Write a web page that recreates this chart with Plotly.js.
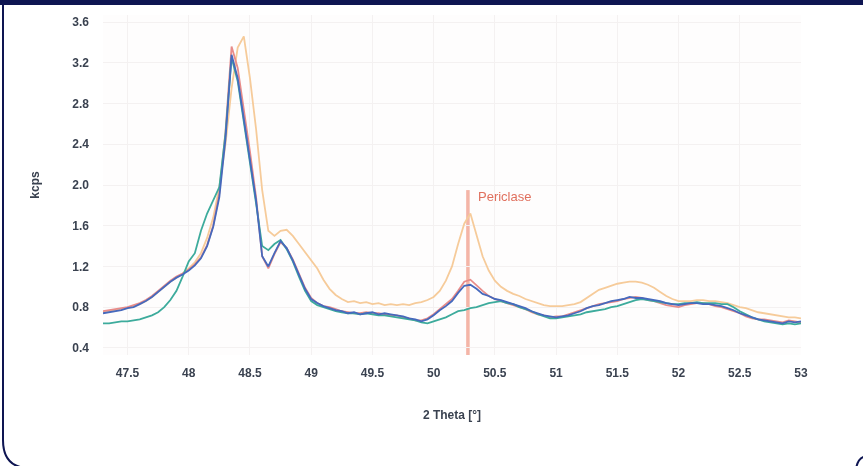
<!DOCTYPE html>
<html>
<head>
<meta charset="utf-8">
<script src="https://cdn.plot.ly/plotly-3.0.1.min.js"></script>
<style>
  html, body { margin: 0; padding: 0; background: #ffffff; overflow: hidden; scrollbar-width: none; }
  html::-webkit-scrollbar, body::-webkit-scrollbar { display: none; width: 0; height: 0; }
  #wrap { position: fixed; left: 0; top: 0; width: 863px; height: 466px; overflow: hidden; }
  #chart { position: absolute; left: 0; top: 0; width: 863px; height: 466px; filter: blur(0.45px); z-index: 1; }
  #deco { position: absolute; left: 0; top: 0; display: block; z-index: 2; pointer-events: none; }
</style>
</head>
<body>
<div id="wrap">
  <div id="chart"></div>
  <svg id="deco" width="863" height="466" xmlns="http://www.w3.org/2000/svg">
    <rect x="846" y="5" width="17" height="461" fill="#ffffff"/>
    <rect x="30" y="452" width="833" height="14" fill="#ffffff"/>
    <rect x="0" y="0" width="863" height="5" fill="#0e1552"/>
    <path d="M3,4 L3,440 Q3,466 26,468" fill="none" stroke="#0e1552" stroke-width="2"/>
    <path d="M856,470 Q857,458 866,456" fill="none" stroke="#0e1552" stroke-width="2"/>
  </svg>
</div>
<script>
// 2 Theta positions (degrees)
const twoTheta = [
  47.30,47.35,47.40,47.45,47.50,47.55,47.60,47.65,47.70,47.75,
  47.80,47.85,47.90,47.95,48.00,48.05,48.10,48.15,48.20,48.25,
  48.30,48.35,48.40,48.45,48.50,48.55,48.60,48.65,48.70,48.75,
  48.80,48.85,48.90,48.95,49.00,49.05,49.10,49.15,49.20,49.25,
  49.30,49.35,49.40,49.45,49.50,49.55,49.60,49.65,49.70,49.75,
  49.80,49.85,49.90,49.95,50.00,50.05,50.10,50.15,50.20,50.25,
  50.30,50.35,50.40,50.45,50.50,50.55,50.60,50.65,50.70,50.75,
  50.80,50.85,50.90,50.95,51.00,51.05,51.10,51.15,51.20,51.25,
  51.30,51.35,51.40,51.45,51.50,51.55,51.60,51.65,51.70,51.75,
  51.80,51.85,51.90,51.95,52.00,52.05,52.10,52.15,52.20,52.25,
  52.30,52.35,52.40,52.45,52.50,52.55,52.60,52.65,52.70,52.75,
  52.80,52.85,52.90,52.95,53.00
];

// kcps values per sample
const peachSeries = [
  0.75,0.76,0.77,0.78,0.79,0.81,0.83,0.86,0.90,0.95,
  1.00,1.05,1.09,1.13,1.18,1.24,1.33,1.48,1.68,1.98,
  2.40,2.95,3.35,3.46,3.05,2.55,1.95,1.55,1.50,1.55,
  1.56,1.50,1.42,1.34,1.27,1.18,1.07,0.98,0.92,0.88,
  0.85,0.86,0.84,0.85,0.83,0.84,0.82,0.83,0.82,0.83,
  0.82,0.84,0.85,0.87,0.90,0.96,1.06,1.20,1.42,1.62,
  1.72,1.52,1.30,1.16,1.06,1.00,0.96,0.93,0.91,0.88,
  0.86,0.84,0.82,0.81,0.81,0.81,0.82,0.83,0.85,0.89,
  0.93,0.97,0.99,1.01,1.03,1.04,1.05,1.05,1.04,1.02,
  0.99,0.95,0.91,0.88,0.86,0.86,0.86,0.87,0.87,0.86,
  0.86,0.85,0.84,0.82,0.80,0.79,0.77,0.75,0.74,0.73,
  0.72,0.71,0.70,0.70,0.69
];
const pinkSeries = [
  0.76,0.77,0.78,0.79,0.80,0.82,0.84,0.87,0.91,0.96,
  1.01,1.06,1.10,1.13,1.17,1.22,1.29,1.41,1.60,1.92,
  2.52,3.36,3.15,2.75,2.33,1.88,1.30,1.18,1.32,1.44,
  1.38,1.27,1.13,0.99,0.89,0.84,0.81,0.80,0.78,0.76,
  0.75,0.74,0.74,0.75,0.74,0.74,0.73,0.72,0.72,0.70,
  0.69,0.67,0.67,0.69,0.73,0.78,0.83,0.88,0.96,1.05,
  1.07,1.01,0.96,0.91,0.88,0.86,0.84,0.82,0.80,0.78,
  0.75,0.73,0.72,0.70,0.71,0.71,0.73,0.75,0.77,0.79,
  0.81,0.83,0.84,0.85,0.86,0.88,0.89,0.90,0.89,0.87,
  0.86,0.84,0.82,0.81,0.80,0.82,0.83,0.84,0.84,0.83,
  0.81,0.80,0.78,0.76,0.74,0.71,0.69,0.68,0.68,0.67,
  0.66,0.65,0.67,0.66,0.65
];
const tealSeries = [
  0.64,0.64,0.65,0.66,0.66,0.67,0.68,0.70,0.72,0.75,
  0.80,0.87,0.96,1.10,1.25,1.33,1.55,1.72,1.85,1.98,
  2.50,3.25,3.02,2.62,2.25,1.82,1.40,1.36,1.42,1.46,
  1.37,1.25,1.10,0.96,0.86,0.82,0.80,0.78,0.76,0.75,
  0.74,0.74,0.73,0.74,0.73,0.72,0.72,0.71,0.70,0.69,
  0.68,0.67,0.65,0.64,0.66,0.68,0.70,0.73,0.76,0.77,
  0.79,0.80,0.82,0.84,0.85,0.86,0.84,0.83,0.80,0.78,
  0.76,0.73,0.71,0.69,0.69,0.70,0.71,0.72,0.73,0.75,
  0.76,0.77,0.78,0.80,0.81,0.83,0.85,0.87,0.88,0.87,
  0.86,0.85,0.84,0.83,0.83,0.84,0.84,0.85,0.84,0.84,
  0.84,0.83,0.83,0.80,0.76,0.73,0.70,0.68,0.66,0.65,
  0.64,0.63,0.64,0.63,0.64
];
const blueSeries = [
  0.74,0.75,0.76,0.77,0.79,0.80,0.83,0.86,0.90,0.95,
  1.00,1.05,1.09,1.12,1.16,1.21,1.28,1.40,1.59,1.88,
  2.45,3.28,3.05,2.65,2.28,1.85,1.30,1.20,1.33,1.45,
  1.38,1.26,1.12,0.98,0.88,0.84,0.81,0.79,0.77,0.76,
  0.74,0.75,0.73,0.74,0.75,0.73,0.74,0.73,0.72,0.71,
  0.69,0.68,0.66,0.68,0.72,0.77,0.81,0.86,0.94,1.01,
  1.02,0.98,0.93,0.91,0.88,0.87,0.85,0.83,0.81,0.79,
  0.76,0.74,0.72,0.71,0.70,0.71,0.72,0.74,0.76,0.79,
  0.81,0.82,0.84,0.86,0.87,0.88,0.90,0.89,0.89,0.88,
  0.87,0.86,0.84,0.83,0.82,0.83,0.84,0.84,0.83,0.83,
  0.82,0.81,0.79,0.77,0.74,0.72,0.70,0.68,0.67,0.66,
  0.65,0.64,0.66,0.65,0.66
];

const xTickVals = [47.5,48,48.5,49,49.5,50,50.5,51,51.5,52,52.5,53];
const xTickText = ["47.5","48","48.5","49","49.5","50","50.5","51","51.5","52","52.5","53"];
const yTickVals = [0.4,0.8,1.2,1.6,2.0,2.4,2.8,3.2,3.6];
const yTickText = ["0.4","0.8","1.2","1.6","2.0","2.4","2.8","3.2","3.6"];

const periclaseLabel = "Periclase";
const periclasePos = 50.28;
const periclaseTop = 1.95;

const seriesList = [
  {name: "Sample D", y: peachSeries, color: "#f6cb9a"},
  {name: "Sample C", y: pinkSeries,  color: "#e88c8a"},
  {name: "Sample B", y: tealSeries,  color: "#3dab9c"},
  {name: "Sample A", y: blueSeries,  color: "#4669bd"}
];

const traces = seriesList.map(s => ({
  type: "scatter", mode: "lines", name: s.name,
  x: twoTheta, y: s.y,
  line: {color: s.color, width: 1.8},
  hoverinfo: "x+y"
}));

const tickFont = {family: "Liberation Sans, Arial, sans-serif", size: 12, color: "#3a4250", weight: "bold"};

const layout = {
  width: 863, height: 466,
  margin: {l: 103, r: 62, t: 15, b: 111, pad: 0},
  paper_bgcolor: "rgba(0,0,0,0)",
  plot_bgcolor: "#fefdfd",
  showlegend: false,
  xaxis: {
    range: [47.3, 53.0],
    tickvals: xTickVals, ticktext: xTickText,
    tickfont: tickFont, ticks: "", ticklabelstandoff: 9,
    showgrid: true, gridcolor: "#f4f1f1", gridwidth: 1,
    zeroline: false, showline: false,
    title: {text: "2 Theta [°]", font: tickFont, standoff: 31}
  },
  yaxis: {
    range: [0.33, 3.67],
    tickvals: yTickVals, ticktext: yTickText,
    tickfont: tickFont, ticks: "", ticklabelstandoff: 13,
    showgrid: true, gridcolor: "#f4f1f1", gridwidth: 1,
    zeroline: false, showline: false,
    title: {text: "kcps", font: tickFont, standoff: 30}
  },
  shapes: [{
    type: "line", xref: "x", yref: "y",
    x0: periclasePos, x1: periclasePos, y0: 0.33, y1: periclaseTop,
    line: {color: "rgba(240,150,130,0.7)", width: 3.5},
    layer: "below"
  }],
  annotations: [{
    x: periclasePos + 0.07, y: periclaseTop - 0.06, xref: "x", yref: "y",
    text: periclaseLabel, showarrow: false, xanchor: "left", yanchor: "middle",
    font: {family: "Liberation Sans, Arial, sans-serif", size: 13, color: "#e0705e"}
  }]
};

Plotly.newPlot("chart", traces, layout, {displayModeBar: false, staticPlot: true});
</script>
</body>
</html>
